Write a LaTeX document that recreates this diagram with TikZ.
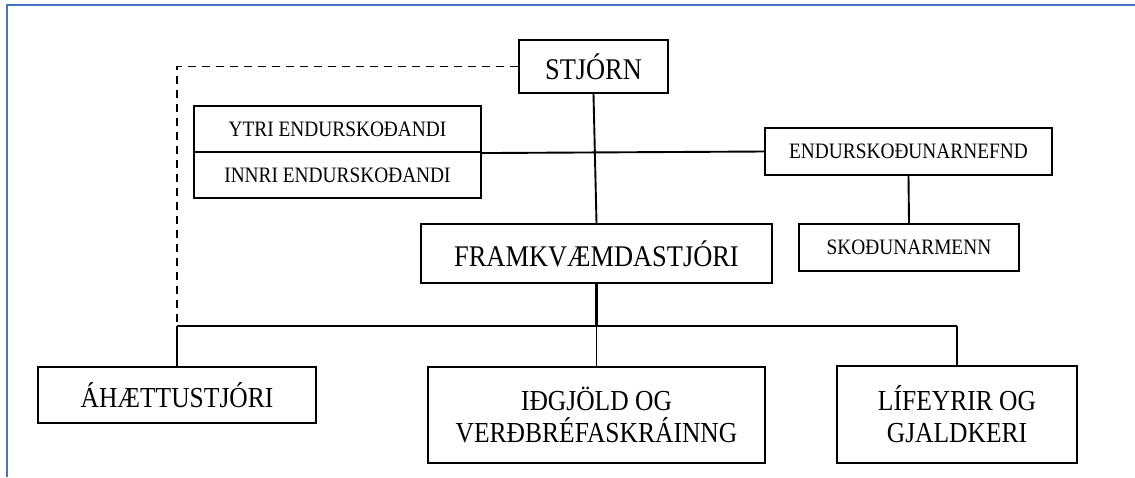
\documentclass[tikz,border=0pt]{standalone}
\usepackage{fontspec}
\setmainfont{Liberation Serif}[FakeStretch=0.88]
\definecolor{frameblue}{RGB}{68,114,196}
\tikzset{
  unit/.style={draw, line width=2.1pt, inner sep=0pt, align=center},
  bigtxt/.style={font=\fontsize{30}{34}\selectfont},
  midtxt/.style={font=\fontsize{29}{32}\selectfont},
  smalltxt/.style={font=\fontsize{22}{26}\selectfont},
  link/.style={line width=1.9pt}
}
\begin{document}
\begin{tikzpicture}[x=1pt,y=-1pt]
\useasboundingbox (0,0) rectangle (1135,477);
\draw[frameblue, line width=2.2pt] (7,477) -- (7,5) -- (1135,5);
\node[unit,bigtxt,minimum width=149pt,minimum height=53pt] (stjorn) at (593.5,66.5) {STJÓRN};
\node[unit,smalltxt,minimum width=287pt,minimum height=46pt] (ytri) at (337.5,129) {YTRI ENDURSKOÐANDI};
\node[unit,smalltxt,minimum width=287pt,minimum height=46pt] (innri) at (337.5,175) {INNRI ENDURSKOÐANDI};
\node[unit,smalltxt,minimum width=287pt,minimum height=47pt] (nefnd) at (908.5,151.5) {ENDURSKOÐUNARNEFND};
\node[unit,smalltxt,minimum width=220pt,minimum height=47pt] (skodun) at (909,247.5) {SKOÐUNARMENN};
\node[unit,bigtxt,minimum width=351pt,minimum height=59pt] (fram) at (596.5,253.5) {FRAMKVÆMDASTJÓRI};
\node[unit,midtxt,minimum width=278pt,minimum height=56pt] (ahaett) at (177,395) {ÁHÆTTUSTJÓRI};
\node[unit,midtxt,minimum width=337pt,minimum height=96pt] (idgjold) at (596.5,415) {IÐGJÖLD OG\\VERÐBRÉFASKRÁINNG};
\node[unit,midtxt,minimum width=240pt,minimum height=97pt] (lifeyrir) at (957,414.5) {LÍFEYRIR OG\\GJALDKERI};
\coordinate (busL) at (177,326);
\coordinate (busR) at (957,326);
\draw[link, dash pattern=on 8pt off 6pt] (stjorn.west) -| (busL);
\draw[link] (stjorn.south) -- (fram.north);
\draw[link] (ytri.south east) -- (nefnd.west);
\draw[link] (nefnd.south) -- (skodun.north);
\draw[line width=3pt] (fram.south) -- (fram.south |- busL);
\draw[link] (fram.south |- busL) -- (idgjold.north);
\draw[link] (busL) -- (busR);
\draw[link] (busL) -- (ahaett.north);
\draw[link] (busR) -- (lifeyrir.north);
\end{tikzpicture}
\end{document}
